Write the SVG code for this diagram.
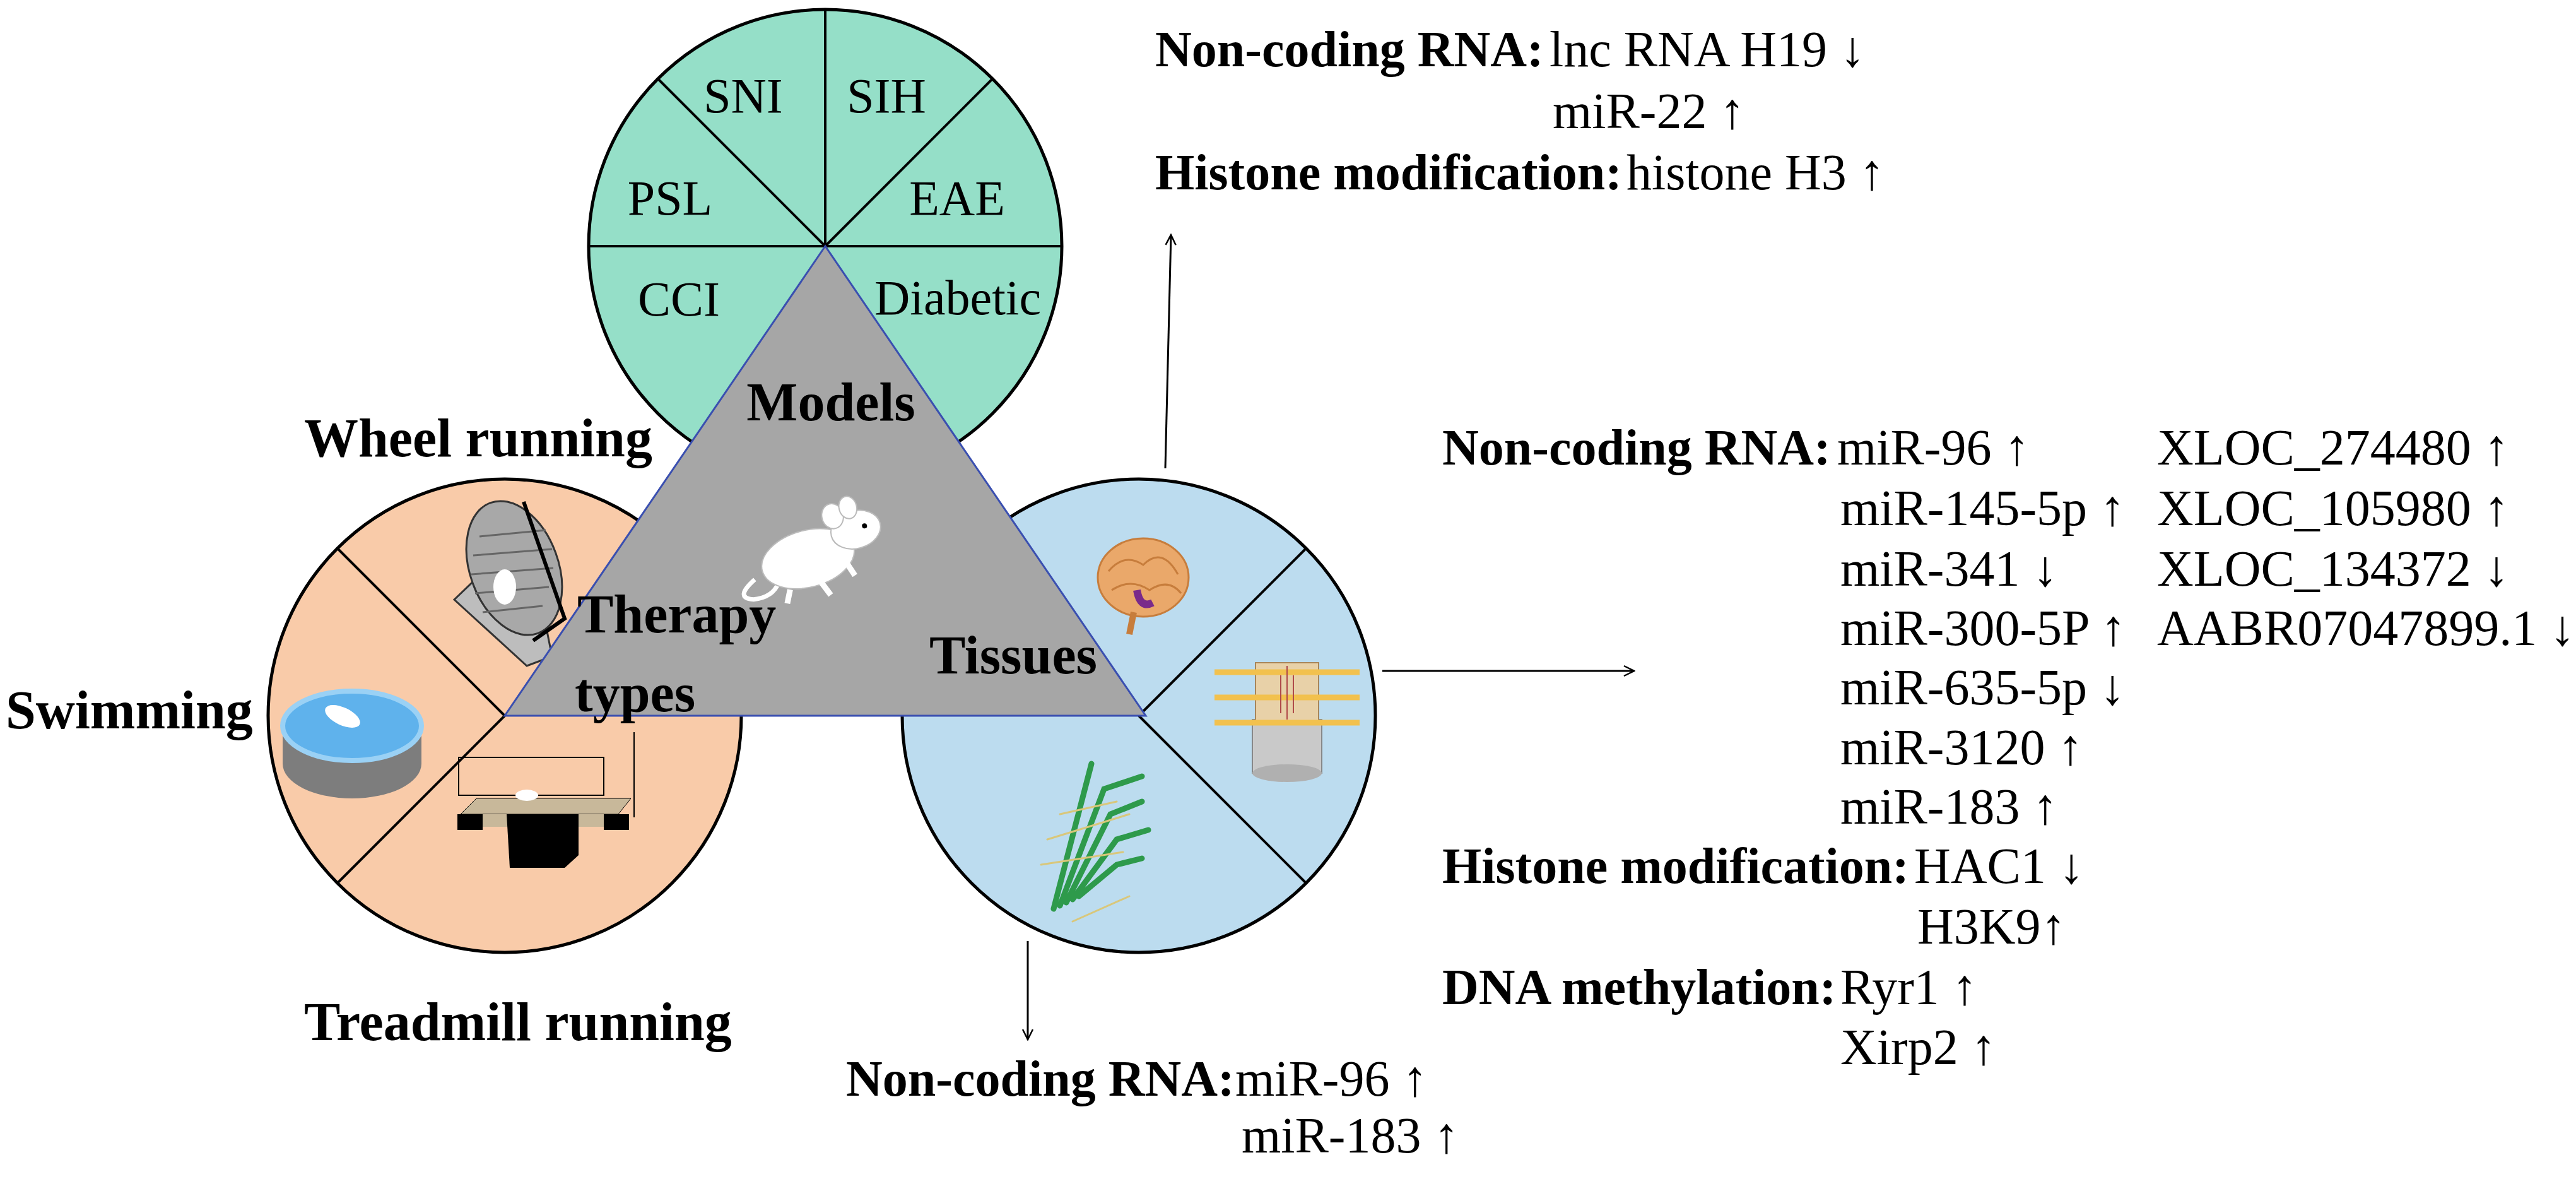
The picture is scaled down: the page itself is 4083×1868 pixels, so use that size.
<svg xmlns="http://www.w3.org/2000/svg" width="4083" height="1868" viewBox="0 0 4083 1868">
<defs>
<style>
.t{font-family:"Liberation Serif","Times New Roman",serif;fill:#000}
.b{font-weight:bold}
.s{font-size:80px}
.c{font-size:78px}
.L{font-size:86px;font-weight:bold}
.ln{stroke:#000;stroke-width:4;fill:none}
.arr{stroke:#000;stroke-width:3;fill:none}
</style>
<marker id="ah" viewBox="0 0 20 20" refX="18" refY="10" markerWidth="20" markerHeight="20" markerUnits="userSpaceOnUse" orient="auto"><path d="M2,2 L18,10 L2,18" fill="none" stroke="#000" stroke-width="2.5"/></marker>
</defs>
<rect width="4083" height="1868" fill="#fff"/>
<g id="models">
<circle cx="1308" cy="390" r="375" fill="#95dfc8" stroke="#000" stroke-width="5"/>
<path class="ln" d="M933,390 H1683 M1308,390 V15 M1308,390 L1043,125 M1308,390 L1573,125"/>
<text class="t c" x="1178" y="178" text-anchor="middle">SNI</text>
<text class="t c" x="1405" y="178" text-anchor="middle">SIH</text>
<text class="t c" x="1062" y="340" text-anchor="middle">PSL</text>
<text class="t c" x="1517" y="340" text-anchor="middle">EAE</text>
<text class="t c" x="1076" y="500" text-anchor="middle">CCI</text>
<text class="t c" x="1518" y="498" text-anchor="middle">Diabetic</text>
</g>
<g id="therapy">
<circle cx="800" cy="1134" r="375" fill="#f9cba9" stroke="#000" stroke-width="5"/>
<path class="ln" d="M800,1134 L535,869 M800,1134 L535,1399"/>
<text class="t L" x="482" y="723">Wheel running</text>
<text class="t L" x="9" y="1154">Swimming</text>
<text class="t L" x="482" y="1648">Treadmill running</text>
<!-- wheel -->
<g transform="translate(815,830)">
<polygon points="-95,120 20,10 60,210 20,225" fill="#bdbdbd" stroke="#333" stroke-width="3"/>
<ellipse cx="0" cy="70" rx="70" ry="110" fill="#a8a8a8" stroke="#333" stroke-width="3" transform="rotate(-20 0 70)"/>
<path d="M-55,20 L50,10 M-65,50 L60,40 M-68,80 L62,70 M-62,110 L55,100 M-50,140 L45,130" stroke="#666" stroke-width="3"/>
<path d="M15,-35 L80,150 L30,185" stroke="#000" stroke-width="6" fill="none"/>
<ellipse cx="-15" cy="100" rx="18" ry="28" fill="#fff"/>
</g>
<!-- swimming -->
<g transform="translate(558,1150)">
<path d="M-110,0 V60 A110,55 0 0 0 110,60 V0" fill="#7d7d7d"/>
<ellipse cx="0" cy="0" rx="110" ry="55" fill="#5fb2ec" stroke="#9ad1f5" stroke-width="8"/>
<ellipse cx="-15" cy="-15" rx="30" ry="14" fill="#fff" transform="rotate(25 -15 -15)"/>
</g>
<!-- treadmill -->
<g transform="translate(850,1300)">
<rect x="-123" y="-100" width="230" height="60" fill="none" stroke="#000" stroke-width="2"/>
<line x1="155" y1="-140" x2="155" y2="-5" stroke="#000" stroke-width="2"/>
<polygon points="-120,-10 -95,-35 150,-35 130,-10" fill="#c8b89a" stroke="#000" stroke-width="1"/>
<rect x="-125" y="-10" width="40" height="25" fill="#000"/>
<rect x="107" y="-10" width="40" height="25" fill="#000"/>
<rect x="-85" y="-10" width="70" height="20" fill="#c8b89a"/>
<rect x="20" y="-10" width="87" height="20" fill="#c8b89a"/>
<path d="M-47,-10 H67 V55 L45,75 H-42 Z" fill="#000"/>
<ellipse cx="-15" cy="-40" rx="18" ry="9" fill="#fff"/>
</g>
</g>
<g id="tissues">
<circle cx="1805" cy="1134" r="375" fill="#bcdcef" stroke="#000" stroke-width="5"/>
<path class="ln" d="M1805,1134 L2070,869 M1805,1134 L2070,1399"/>
<!-- brain -->
<g transform="translate(1812,915)">
<ellipse cx="0" cy="0" rx="72" ry="62" fill="#eaa86a" stroke="#c77d3c" stroke-width="3"/>
<path d="M-55,-10 Q-30,-40 0,-20 Q30,-50 55,-5 M-50,20 Q-20,0 10,20 Q40,0 60,25" stroke="#c77d3c" stroke-width="3" fill="none"/>
<path d="M-10,20 Q-5,50 15,40" stroke="#7a2a8a" stroke-width="12" fill="none"/>
<path d="M-15,55 L-22,90" stroke="#c77d3c" stroke-width="10"/>
</g>
<!-- spinal cord -->
<g transform="translate(2040,1110)">
<rect x="-55" y="30" width="110" height="85" fill="#c9c9c9" stroke="#888" stroke-width="2"/>
<ellipse cx="0" cy="115" rx="55" ry="14" fill="#b0b0b0"/>
<rect x="-50" y="-60" width="100" height="95" fill="#e8d1a8" stroke="#a8865a" stroke-width="2"/>
<path d="M-115,-45 H115 M-115,-5 H115 M-115,35 H115" stroke="#f2c14e" stroke-width="9"/>
<path d="M0,-55 V30 M-10,-40 V20 M10,-40 V20" stroke="#b04a4a" stroke-width="2"/>
</g>
<!-- nerve -->
<g transform="translate(1730,1310)" stroke-linecap="round" fill="none">
<path d="M-60,130 L0,-100 M-50,125 L20,-60 L80,-80 M-40,120 L30,-20 L80,-40 M-30,115 L40,20 L90,5 M-20,110 L40,60 L80,50" stroke="#2e9a4b" stroke-width="9"/>
<path d="M-70,20 L60,-20 M-80,60 L50,40 M-50,-20 L40,-40 M-30,150 L60,110" stroke="#d9c77a" stroke-width="3"/>
</g>
</g>
<g id="center">
<polygon points="1308,390 800,1134 1816,1134" fill="#a6a6a6" stroke="#3a4fb0" stroke-width="3"/>
<!-- mouse -->
<g transform="translate(1300,880) rotate(-15)" fill="#fff" stroke="#bbb" stroke-width="2">
<path d="M-110,10 Q-150,30 -120,40 Q-90,45 -75,25" fill="none" stroke="#fff" stroke-width="7"/>
<ellipse cx="-20" cy="0" rx="75" ry="45"/>
<ellipse cx="65" cy="-25" rx="40" ry="30"/>
<ellipse cx="35" cy="-55" rx="17" ry="20"/>
<ellipse cx="62" cy="-62" rx="14" ry="18"/>
<circle cx="80" cy="-27" r="4" fill="#000" stroke="none"/>
<path d="M-60,40 L-70,60 M-10,40 L0,65 M35,15 L45,45" stroke="#fff" stroke-width="9"/>
</g>
<text class="t L" x="1317" y="666" text-anchor="middle">Models</text>
<text class="t L" x="915" y="1002">Therapy</text>
<text class="t L" x="911" y="1127">types</text>
<text class="t L" x="1606" y="1067" text-anchor="middle">Tissues</text>
</g>
<g id="connectors">
<line class="arr" x1="1847" y1="742" x2="1856" y2="372" marker-end="url(#ah)"/>
<line class="arr" x1="2191" y1="1063" x2="2590" y2="1063" marker-end="url(#ah)"/>
<line class="arr" x1="1629" y1="1491" x2="1629" y2="1647" marker-end="url(#ah)"/>
</g>
<g id="text-top">
<text class="t s b" x="1831" y="105">Non-coding RNA:</text>
<text class="t s" x="2456" y="105">lnc RNA H19 ↓</text>
<text class="t s" x="2461" y="203">miR-22 ↑</text>
<text class="t s b" x="1831" y="300">Histone modification:</text>
<text class="t s" x="2578" y="300">histone H3 ↑</text>
</g>
<g id="text-right">
<text class="t s b" x="2286" y="736">Non-coding RNA:</text>
<text class="t s" x="2912" y="736">miR-96 ↑</text>
<text class="t s" x="2917" y="832">miR-145-5p ↑</text>
<text class="t s" x="2917" y="928">miR-341 ↓</text>
<text class="t s" x="2917" y="1022">miR-300-5P ↑</text>
<text class="t s" x="2917" y="1116">miR-635-5p ↓</text>
<text class="t s" x="2917" y="1211">miR-3120 ↑</text>
<text class="t s" x="2917" y="1305">miR-183 ↑</text>
<text class="t s" x="3419" y="736">XLOC_274480 ↑</text>
<text class="t s" x="3419" y="832">XLOC_105980 ↑</text>
<text class="t s" x="3419" y="928">XLOC_134372 ↓</text>
<text class="t s" x="3419" y="1022">AABR07047899.1 ↓</text>
<text class="t s b" x="2286" y="1399">Histone modification:</text>
<text class="t s" x="3034" y="1399">HAC1 ↓</text>
<text class="t s" x="3039" y="1495">H3K9↑</text>
<text class="t s b" x="2286" y="1591">DNA methylation:</text>
<text class="t s" x="2917" y="1591">Ryr1 ↑</text>
<text class="t s" x="2917" y="1686">Xirp2 ↑</text>
</g>
<g id="text-bottom">
<text class="t s b" x="1341" y="1736">Non-coding RNA:</text>
<text class="t s" x="1958" y="1736">miR-96 ↑</text>
<text class="t s" x="1968" y="1826">miR-183 ↑</text>
</g>
</svg>
